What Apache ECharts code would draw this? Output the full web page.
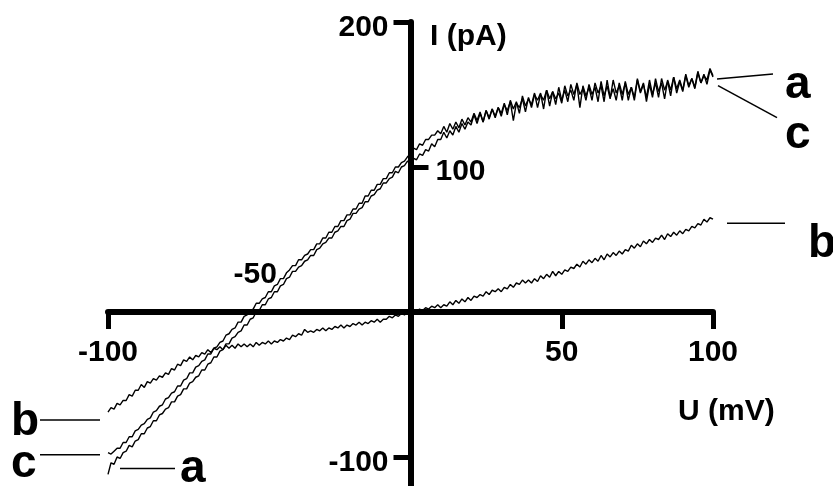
<!DOCTYPE html>
<html>
<head>
<meta charset="utf-8">
<script src="https://cdn.jsdelivr.net/npm/echarts@6/dist/echarts.min.js"></script>
<style>html,body{margin:0;padding:0;background:#fff}#c{width:833px;height:486px}</style>
</head>
<body>
<div id="c"></div>
<script>
// Voltage sample grid (mV): -100 ... 100 in 1 mV steps
const voltages = [];
for (let u = -100; u <= 100; u++) voltages.push(u);

// Current traces (pA), one value per mV
const traceA = [
  -112,-104,-105,-100,-101,-97,-96,-92,-93,-89,
  -88,-84,-84,-80,-79,-75,-75,-71,-70,-67,
  -66,-62,-62,-58,-57,-53,-53,-49,-48,-45,
  -44,-40,-40,-36,-35,-31,-31,-27,-26,-22,
  -22,-18,-17,-14,-13,-9,-9,-5,-4,0,
  1,5,5,9,10,14,14,18,19,23,
  24,28,28,31,32,35,36,39,39,43,
  44,47,48,51,51,55,56,59,59,63,
  64,68,68,71,72,76,76,80,81,84,
  85,89,89,92,93,97,96,100,101,104,
  103,106,105,109,108,112,111,116,114,119,
  119,124,120,125,122,128,124,130,126,131,
  129,136,130,137,131,139,133,140,134,141,
  135,143,139,145,132,144,141,147,138,148,
  141,150,146,151,140,153,147,152,143,155,
  146,153,145,157,150,157,141,156,149,155,
  146,158,151,156,145,160,148,154,146,158,
  150,158,146,155,148,161,152,158,145,157,
  148,161,152,158,147,160,153,162,151,159,
  152,163,155,161,154,165,158,164,157,167,
  162
];
const traceB = [
  -69,-66,-67,-63,-64,-61,-61,-57,-58,-54,
  -54,-50,-52,-48,-49,-46,-47,-44,-45,-42,
  -43,-39,-40,-36,-37,-33,-34,-31,-33,-30,
  -31,-28,-29,-26,-28,-25,-26,-24,-26,-23,
  -25,-23,-25,-22,-24,-22,-24,-22,-24,-21,
  -23,-21,-22,-20,-22,-20,-21,-19,-20,-18,
  -19,-16,-17,-15,-16,-12,-14,-13,-14,-12,
  -13,-11,-13,-11,-12,-10,-11,-9,-11,-9,
  -10,-8,-9,-7,-9,-7,-8,-6,-7,-5,
  -7,-5,-5,-3,-4,-2,-3,-1,-2,0,
  0,1,0,2,1,3,2,4,3,5,
  3,5,4,7,5,8,6,9,7,10,
  8,11,10,12,11,14,12,15,14,16,
  14,17,16,19,17,20,19,22,20,22,
  20,23,21,25,23,26,24,28,25,28,
  26,29,28,31,30,33,31,35,33,36,
  34,37,35,39,36,40,38,41,39,42,
  40,43,42,46,44,47,45,49,47,50,
  48,51,50,53,50,54,52,55,53,56,
  54,57,56,59,58,61,60,64,62,65,
  64
];
const traceC = [
  -97,-98,-96,-94,-94,-90,-90,-86,-86,-82,
  -81,-78,-77,-74,-73,-69,-68,-65,-64,-60,
  -59,-56,-55,-51,-51,-47,-46,-42,-42,-38,
  -37,-34,-33,-29,-29,-25,-24,-21,-20,-16,
  -15,-12,-11,-7,-7,-3,-2,1,2,6,
  6,9,10,14,14,18,19,23,23,27,
  29,32,32,36,36,39,40,43,43,47,
  47,51,51,55,55,59,59,63,63,67,
  67,71,71,75,75,80,80,84,84,88,
  88,92,92,96,96,100,100,103,104,107,
  109,113,112,116,115,119,119,122,122,125,
  123,128,124,130,126,131,127,133,129,134,
  131,137,132,138,131,139,134,140,135,141,
  137,144,136,146,140,145,137,149,142,147,
  143,151,141,150,146,153,142,152,147,151,
  144,156,149,153,146,158,150,154,146,157,
  150,155,145,159,149,156,147,160,151,156,
  146,159,150,155,146,160,151,157,148,160,
  150,158,148,161,153,159,149,162,154,160,
  153,164,156,161,155,166,158,163,160,168,
  163
];

// Axis ticks / labels
const xTickValues = [-100, 50, 100];
const xUpperLabels = [-50];
const yLeftTicks = [200, -100];
const yRightTicks = [100];
const xTitle = 'U (mV)';
const yTitle = 'I (pA)';
const seriesNames = ['a', 'b', 'c'];

const FONT = '"Liberation Sans", Arial, Helvetica, sans-serif';
const pairs = (vals) => voltages.map((u, i) => [u, vals[i]]);

// Layout of the plotting area and axis ranges
const W = 833, H = 486;
const G = {left: 108, right: 120, top: 22, bottom: 0};
const X_MIN = -100, X_MAX = 100, Y_MIN = -120, Y_MAX = 200;
const gw = W - G.left - G.right, gh = H - G.top - G.bottom;
// offsets that put each axis through the origin of the other
const yAxisOffset = -gw * (0 - X_MIN) / (X_MAX - X_MIN);
const xAxisOffset = -gh * (0 - Y_MIN) / (Y_MAX - Y_MIN);

const chart = echarts.init(document.getElementById('c'), null, {renderer: 'canvas'});
const labelStyle = {color: '#000', fontFamily: FONT, fontWeight: 'bold', fontSize: 30};

chart.setOption({
  animation: false,
  backgroundColor: '#fff',
  grid: Object.assign({outerBoundsMode: 'none'}, G),
  xAxis: [
    {
      type: 'value', min: X_MIN, max: X_MAX, position: 'bottom', offset: xAxisOffset,
      axisLine: {onZero: false, lineStyle: {color: '#000', width: 6}},
      axisTick: {show: true, customValues: xTickValues, length: 17, lineStyle: {color: '#000', width: 5}},
      axisLabel: Object.assign({customValues: xTickValues, margin: 26}, labelStyle),
      splitLine: {show: false}
    },
    {
      type: 'value', min: X_MIN, max: X_MAX, position: 'bottom', offset: xAxisOffset,
      axisLine: {show: false, onZero: false},
      axisTick: {show: false},
      axisLabel: Object.assign({customValues: xUpperLabels, inside: true, margin: 22, padding: [0, 8, 0, 0]}, labelStyle),
      splitLine: {show: false}
    }
  ],
  yAxis: [
    {
      type: 'value', min: Y_MIN, max: Y_MAX, position: 'left', offset: yAxisOffset,
      axisLine: {onZero: false, lineStyle: {color: '#000', width: 6}},
      axisTick: {show: true, customValues: yLeftTicks, length: 17, lineStyle: {color: '#000', width: 5}},
      axisLabel: Object.assign({customValues: yLeftTicks, margin: 22, verticalAlign: 'top', lineHeight: 12}, labelStyle),
      splitLine: {show: false}
    },
    {
      type: 'value', min: Y_MIN, max: Y_MAX, position: 'left', offset: yAxisOffset,
      axisLine: {show: false, onZero: false},
      axisTick: {show: true, inside: true, customValues: yRightTicks, length: 18, lineStyle: {color: '#000', width: 5}},
      axisLabel: Object.assign({customValues: yRightTicks, inside: true, margin: 25, verticalAlign: 'top', lineHeight: 10}, labelStyle),
      splitLine: {show: false}
    }
  ],
  series: [
    {name: seriesNames[0], type: 'line', data: pairs(traceA), showSymbol: false, symbol: 'none', clip: false,
     lineStyle: {color: '#000', width: 1.4}, z: 5},
    {name: seriesNames[1], type: 'line', data: pairs(traceB), showSymbol: false, symbol: 'none', clip: false,
     lineStyle: {color: '#000', width: 1.4}, z: 5},
    {name: seriesNames[2], type: 'line', data: pairs(traceC), showSymbol: false, symbol: 'none', clip: false,
     lineStyle: {color: '#000', width: 1.4}, z: 5}
  ]
});

// Leader lines anchored to trace ends, letters beside them
const px = (u, i) => chart.convertToPixel({gridIndex: 0}, [u, i]);
const last = voltages.length - 1;
const aR = px(voltages[last], traceA[last]);
const cR = px(voltages[last], traceC[last]);
const bR = px(voltages[last], traceB[last]);
const aL = px(voltages[0], traceA[0]);
const bL = px(voltages[0], traceB[0]);
const cL = px(voltages[0], traceC[0]);

const seg = (p, d1, d2) => ({type: 'line', silent: true, z: 10,
  shape: {x1: p[0] + d1[0], y1: p[1] + d1[1], x2: p[0] + d2[0], y2: p[1] + d2[1]},
  style: {stroke: '#000', lineWidth: 1.5}});
const letter = (t, x, y, size) => ({type: 'text', silent: true, z: 10, x: x, y: y,
  style: {text: t, fill: '#000', font: 'bold ' + size + 'px ' + FONT, align: 'left', verticalAlign: 'middle'}});

chart.setOption({
  graphic: [
    seg(aR, [4, 2], [60, -3]),
    seg(cR, [5, 10], [64, 42]),
    seg(bR, [14, 4], [72, 4]),
    seg(bL, [-68, 8], [-8, 8]),
    seg(cL, [-68, 2], [-8, 2]),
    seg(aL, [12, -6], [67, -6]),
    letter(seriesNames[0], 785, 85, 46),
    letter(seriesNames[2], 785, 135, 46),
    letter(seriesNames[1], 808, 244, 46),
    letter(seriesNames[1], 11, 422, 46),
    letter(seriesNames[2], 11, 464, 46),
    letter(seriesNames[0], 180, 469, 46),
    letter(yTitle, 430, 37, 30),
    letter(xTitle, 678, 412, 30)
  ]
});
</script>
</body>
</html>
